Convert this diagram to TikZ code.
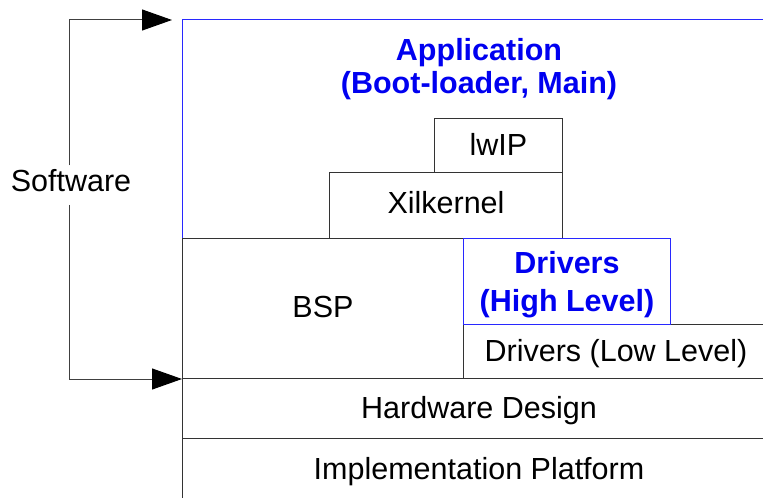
\documentclass[tikz,border=0pt]{standalone}
\usepackage{fontspec}
\setmainfont{Liberation Sans}
\usetikzlibrary{arrows.meta}
\definecolor{edgeblue}{RGB}{40,40,255}
\definecolor{textblue}{RGB}{0,0,240}
\tikzset{
  lbl/.style={font=\fontsize{30.5bp}{36bp}\selectfont, inner sep=1bp, align=center},
  hilbl/.style={lbl, font=\fontsize{30.5bp}{36bp}\selectfont\bfseries, text=textblue},
  layer/.style={lbl, draw=black!80, line width=1bp, anchor=north west, inner sep=0pt},
  oneline/.style={text height=20bp, text depth=0pt},
  hilayer/.style={layer, draw=edgeblue, hilbl},
  flow/.style={draw=black!75, line width=1bp, -{Triangle[length=30bp,width=21bp,color=black]}}
}
\begin{document}
\begin{tikzpicture}[x=1bp,y=-1bp]
\useasboundingbox (0,0) rectangle (763,498);
\clip (0,0) rectangle (763,498);

% application region: open outline on the left and top
\draw[edgeblue, line width=1bp] (182,238) -- (182,20) -- (790,20);
\node[hilbl, text depth=0pt, font=\fontsize{30.5bp}{33.3bp}\selectfont\bfseries] (app) at (479,65.8) {Application\\(Boot-loader, Main)};

% software stack
\node[layer, oneline, minimum width=128bp, minimum height=54bp] (lwip) at (434,118) {lwIP};
\node[layer, oneline, text height=15.4bp, minimum width=233bp, minimum height=66bp] (xil) at (329,172) {Xilkernel};
\node[layer, oneline, text height=18bp, minimum width=281bp, minimum height=140bp] (bsp) at (182,238) {BSP};
\node[layer, oneline, minimum width=305bp, minimum height=54bp] (drvlo) at (463,324) {Drivers (Low Level)};
\node[hilayer, text depth=0pt, font=\fontsize{30.5bp}{38.5bp}\selectfont\bfseries, minimum width=207bp, minimum height=86bp] (drvhi) at (463,238) {Drivers\\(High Level)};

% hardware layers
\node[layer, oneline, minimum width=593bp, minimum height=60bp] (hw) at (182,378) {Hardware Design};
\node[layer, oneline, minimum width=593bp, minimum height=62bp] (impl) at (182,438) {Implementation Platform};

% software bracket
\node[lbl, fill=white, anchor=base, text depth=9bp, inner sep=4bp] (sw) at (71,191.7) {Software};
\coordinate (rail) at (69,20);
\coordinate (apptip) at (172,20);
\draw[flow] (sw.north -| rail) -- (rail) -- (apptip);
\draw[flow] (sw.south -| rail) |- (bsp.south west);
\end{tikzpicture}
\end{document}
